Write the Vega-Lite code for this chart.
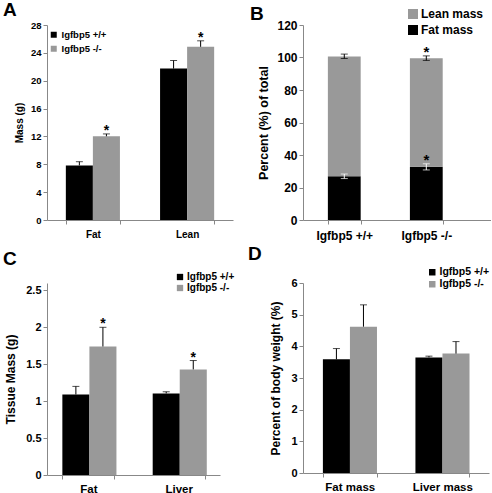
{
  "$schema": "https://vega.github.io/schema/vega-lite/v6.json",
  "padding": {"left": 3, "top": 1, "right": 0, "bottom": 0},
  "background": "white",
  "config": {
    "view": {"stroke": null},
    "font": "Liberation Sans",
    "axis": {"grid": false, "domainColor": "#888", "tickColor": "#888", "labelColor": "#000", "titleColor": "#000", "labelFontWeight": "bold", "titleFontWeight": "bold", "tickSize": 4, "labelOverlap": false},
    "legend": {"labelFontWeight": "bold", "labelColor": "#000", "symbolType": "square", "symbolStrokeWidth": 0, "symbolOpacity": 1},
    "title": {"fontSize": 19, "fontWeight": "bold", "anchor": "start", "color": "#000", "frame": "group"}
  },
  "bounds": "flush",
  "columns": 2,
  "align": "each",
  "spacing": {"row": 63, "column": 70},
  "resolve": {"scale": {"color": "independent", "x": "independent", "y": "independent"}, "legend": {"color": "independent"}},
  "concat": [
    {
      "width": 186, "height": 195,
      "title": {"text": "A", "dx": -44, "offset": 0},
      "data": {"values": [
        {"tissue": "Fat", "genotype": "Igfbp5 +/+", "mean": 7.84, "upper": 8.37, "star": false},
        {"tissue": "Fat", "genotype": "Igfbp5 -/-", "mean": 12.02, "upper": 12.36, "star": true},
        {"tissue": "Lean", "genotype": "Igfbp5 +/+", "mean": 21.74, "upper": 22.9, "star": false},
        {"tissue": "Lean", "genotype": "Igfbp5 -/-", "mean": 24.87, "upper": 25.73, "star": true}
      ]},
      "encoding": {
        "x": {"field": "tissue", "type": "nominal", "sort": ["Fat", "Lean"], "scale": {"paddingInner": 0.426, "paddingOuter": 0.2}, "axis": {"title": null, "labelAngle": 0, "tickBand": "extent", "labelFontSize": 10, "labelPadding": 5}},
        "xOffset": {"field": "genotype", "type": "nominal", "sort": ["Igfbp5 +/+", "Igfbp5 -/-"]}
      },
      "layer": [
        {"mark": {"type": "bar"},
         "encoding": {
           "y": {"field": "mean", "type": "quantitative", "scale": {"domain": [0, 28]}, "axis": {"values": [0, 4, 8, 12, 16, 20, 24, 28], "title": "Mass (g)", "labelFontSize": 9.5, "titleFontSize": 10, "titlePadding": 6}},
           "color": {"field": "genotype", "type": "nominal", "scale": {"domain": ["Igfbp5 +/+", "Igfbp5 -/-"], "range": ["#000000", "#999999"]},
             "legend": {"title": null, "orient": "none", "legendX": 2, "legendY": 5, "labelFontSize": 9.5, "symbolSize": 36, "rowPadding": 3, "labelOffset": 3}}
         }},
        {"mark": {"type": "rule", "color": "#000"}, "encoding": {"y": {"field": "upper", "type": "quantitative", "axis": {"values": [0, 4, 8, 12, 16, 20, 24, 28], "title": "Mass (g)", "labelFontSize": 9.5, "titleFontSize": 10, "titlePadding": 6}}, "y2": {"field": "mean"}}},
        {"mark": {"type": "tick", "color": "#000", "size": 7, "thickness": 1}, "encoding": {"y": {"field": "upper", "type": "quantitative", "axis": {"values": [0, 4, 8, 12, 16, 20, 24, 28], "title": "Mass (g)", "labelFontSize": 9.5, "titleFontSize": 10, "titlePadding": 6}}}},
        {"transform": [{"filter": "datum.star"}], "mark": {"type": "text", "text": "*", "fontSize": 14, "fontWeight": "bold", "baseline": "alphabetic", "dy": 1}, "encoding": {"y": {"field": "upper", "type": "quantitative", "axis": {"values": [0, 4, 8, 12, 16, 20, 24, 28], "title": "Mass (g)", "labelFontSize": 9.5, "titleFontSize": 10, "titlePadding": 6}}}}
      ]
    },
    {
      "width": 188, "height": 195,
      "title": {"text": "B", "dx": -53, "offset": -16},
      "data": {"values": [
        {"genotype": "Igfbp5 +/+", "component": "Fat mass", "pct": 26.9, "lo": 25.5, "hi": 28.3, "star": false},
        {"genotype": "Igfbp5 +/+", "component": "Lean mass", "pct": 73.7, "lo": 99.4, "hi": 102.1, "star": false},
        {"genotype": "Igfbp5 -/-", "component": "Fat mass", "pct": 32.8, "lo": 30.8, "hi": 34.6, "star": true},
        {"genotype": "Igfbp5 -/-", "component": "Lean mass", "pct": 66.8, "lo": 98.2, "hi": 101.0, "star": true}
      ]},
      "encoding": {
        "x": {"field": "genotype", "type": "nominal", "sort": ["Igfbp5 +/+", "Igfbp5 -/-"], "scale": {"paddingInner": 0.6, "paddingOuter": 0.446, "align": 0.34}, "axis": {"title": null, "labelAngle": 0, "tickBand": "extent", "labelFontSize": 12, "labelPadding": 6}}
      },
      "layer": [
        {"mark": {"type": "bar"},
         "encoding": {
           "y": {"field": "pct", "type": "quantitative", "stack": "zero", "scale": {"domain": [0, 120]}, "axis": {"values": [0, 20, 40, 60, 80, 100, 120], "title": "Percent (%) of total", "labelFontSize": 12, "titleFontSize": 12.5, "titlePadding": 6}},
           "order": {"field": "component", "sort": "ascending"},
           "color": {"field": "component", "type": "nominal", "scale": {"domain": ["Lean mass", "Fat mass"], "range": ["#999999", "#000000"]},
             "legend": {"title": null, "orient": "none", "legendX": 104, "legendY": -17, "labelFontSize": 12, "symbolSize": 100, "rowPadding": 4, "labelOffset": 2}}
         }},
        {"transform": [{"filter": "datum.component == 'Fat mass'"}], "mark": {"type": "rule", "color": "#fff"}, "encoding": {"y": {"field": "lo", "type": "quantitative", "axis": {"values": [0, 20, 40, 60, 80, 100, 120], "title": "Percent (%) of total", "labelFontSize": 12, "titleFontSize": 12.5, "titlePadding": 6}}, "y2": {"field": "hi"}}},
        {"transform": [{"filter": "datum.component == 'Fat mass'"}], "mark": {"type": "tick", "color": "#fff", "size": 7, "thickness": 1}, "encoding": {"y": {"field": "lo", "type": "quantitative", "axis": {"values": [0, 20, 40, 60, 80, 100, 120], "title": "Percent (%) of total", "labelFontSize": 12, "titleFontSize": 12.5, "titlePadding": 6}}}},
        {"transform": [{"filter": "datum.component == 'Fat mass'"}], "mark": {"type": "tick", "color": "#fff", "size": 7, "thickness": 1}, "encoding": {"y": {"field": "hi", "type": "quantitative", "axis": {"values": [0, 20, 40, 60, 80, 100, 120], "title": "Percent (%) of total", "labelFontSize": 12, "titleFontSize": 12.5, "titlePadding": 6}}}},
        {"transform": [{"filter": "datum.component == 'Lean mass'"}], "mark": {"type": "rule", "color": "#000"}, "encoding": {"y": {"field": "lo", "type": "quantitative", "axis": {"values": [0, 20, 40, 60, 80, 100, 120], "title": "Percent (%) of total", "labelFontSize": 12, "titleFontSize": 12.5, "titlePadding": 6}}, "y2": {"field": "hi"}}},
        {"transform": [{"filter": "datum.component == 'Lean mass'"}], "mark": {"type": "tick", "color": "#000", "size": 7, "thickness": 1}, "encoding": {"y": {"field": "lo", "type": "quantitative", "axis": {"values": [0, 20, 40, 60, 80, 100, 120], "title": "Percent (%) of total", "labelFontSize": 12, "titleFontSize": 12.5, "titlePadding": 6}}}},
        {"transform": [{"filter": "datum.component == 'Lean mass'"}], "mark": {"type": "tick", "color": "#000", "size": 7, "thickness": 1}, "encoding": {"y": {"field": "hi", "type": "quantitative", "axis": {"values": [0, 20, 40, 60, 80, 100, 120], "title": "Percent (%) of total", "labelFontSize": 12, "titleFontSize": 12.5, "titlePadding": 6}}}},
        {"transform": [{"filter": "datum.star"}], "mark": {"type": "text", "text": "*", "fontSize": 15, "fontWeight": "bold", "baseline": "alphabetic", "dy": 1}, "encoding": {"y": {"field": "hi", "type": "quantitative", "axis": {"values": [0, 20, 40, 60, 80, 100, 120], "title": "Percent (%) of total", "labelFontSize": 12, "titleFontSize": 12.5, "titlePadding": 6}}}}
      ]
    },
    {
      "width": 173, "height": 192,
      "title": {"text": "C", "dx": -44, "offset": 3},
      "data": {"values": [
        {"tissue": "Fat", "genotype": "Igfbp5 +/+", "mean": 1.09, "upper": 1.2, "star": false},
        {"tissue": "Fat", "genotype": "Igfbp5 -/-", "mean": 1.74, "upper": 2.0, "star": true},
        {"tissue": "Liver", "genotype": "Igfbp5 +/+", "mean": 1.105, "upper": 1.127, "star": false},
        {"tissue": "Liver", "genotype": "Igfbp5 -/-", "mean": 1.43, "upper": 1.55, "star": true}
      ]},
      "encoding": {
        "x": {"field": "tissue", "type": "nominal", "sort": ["Fat", "Liver"], "scale": {"paddingInner": 0.425, "paddingOuter": 0.17}, "axis": {"title": null, "labelAngle": 0, "tickBand": "extent", "labelFontSize": 11.5, "labelPadding": 4}},
        "xOffset": {"field": "genotype", "type": "nominal", "sort": ["Igfbp5 +/+", "Igfbp5 -/-"]}
      },
      "layer": [
        {"mark": {"type": "bar"},
         "encoding": {
           "y": {"field": "mean", "type": "quantitative", "scale": {"domain": [0, 2.5]}, "axis": {"values": [0, 0.5, 1, 1.5, 2, 2.5], "format": "~g", "title": "Tissue Mass (g)", "labelFontSize": 11, "titleFontSize": 12, "titlePadding": 8}},
           "color": {"field": "genotype", "type": "nominal", "scale": {"domain": ["Igfbp5 +/+", "Igfbp5 -/-"], "range": ["#000000", "#999999"]},
             "legend": {"title": null, "orient": "none", "legendX": 128, "legendY": -11, "labelFontSize": 10, "symbolSize": 40, "rowPadding": 1, "labelOffset": 2}}
         }},
        {"mark": {"type": "rule", "color": "#000"}, "encoding": {"y": {"field": "upper", "type": "quantitative", "axis": {"values": [0, 0.5, 1, 1.5, 2, 2.5], "format": "~g", "title": "Tissue Mass (g)", "labelFontSize": 11, "titleFontSize": 12, "titlePadding": 8}}, "y2": {"field": "mean"}}},
        {"mark": {"type": "tick", "color": "#000", "size": 7, "thickness": 1}, "encoding": {"y": {"field": "upper", "type": "quantitative", "axis": {"values": [0, 0.5, 1, 1.5, 2, 2.5], "format": "~g", "title": "Tissue Mass (g)", "labelFontSize": 11, "titleFontSize": 12, "titlePadding": 8}}}},
        {"transform": [{"filter": "datum.star"}], "mark": {"type": "text", "text": "*", "fontSize": 14, "fontWeight": "bold", "baseline": "alphabetic", "dy": 1}, "encoding": {"y": {"field": "upper", "type": "quantitative", "axis": {"values": [0, 0.5, 1, 1.5, 2, 2.5], "format": "~g", "title": "Tissue Mass (g)", "labelFontSize": 11, "titleFontSize": 12, "titlePadding": 8}}}}
      ]
    },
    {
      "width": 186, "height": 190,
      "title": {"text": "D", "dx": -55, "offset": 3},
      "data": {"values": [
        {"tissue": "Fat mass", "genotype": "Igfbp5 +/+", "mean": 3.59, "upper": 3.93},
        {"tissue": "Fat mass", "genotype": "Igfbp5 -/-", "mean": 4.62, "upper": 5.31},
        {"tissue": "Liver mass", "genotype": "Igfbp5 +/+", "mean": 3.65, "upper": 3.69},
        {"tissue": "Liver mass", "genotype": "Igfbp5 -/-", "mean": 3.77, "upper": 4.15}
      ]},
      "encoding": {
        "x": {"field": "tissue", "type": "nominal", "sort": ["Fat mass", "Liver mass"], "scale": {"paddingInner": 0.42, "paddingOuter": 0.215}, "axis": {"title": null, "labelAngle": 0, "tickBand": "extent", "labelFontSize": 11.5, "labelPadding": 4}},
        "xOffset": {"field": "genotype", "type": "nominal", "sort": ["Igfbp5 +/+", "Igfbp5 -/-"]}
      },
      "layer": [
        {"mark": {"type": "bar"},
         "encoding": {
           "y": {"field": "mean", "type": "quantitative", "scale": {"domain": [0, 6]}, "axis": {"values": [0, 1, 2, 3, 4, 5, 6], "title": "Percent of body weight (%)", "labelFontSize": 11, "titleFontSize": 12, "titlePadding": 8}},
           "color": {"field": "genotype", "type": "nominal", "scale": {"domain": ["Igfbp5 +/+", "Igfbp5 -/-"], "range": ["#000000", "#999999"]},
             "legend": {"title": null, "orient": "none", "legendX": 124, "legendY": -16, "labelFontSize": 10.5, "symbolSize": 42, "rowPadding": 1, "labelOffset": 2}}
         }},
        {"mark": {"type": "rule", "color": "#000"}, "encoding": {"y": {"field": "upper", "type": "quantitative", "axis": {"values": [0, 1, 2, 3, 4, 5, 6], "title": "Percent of body weight (%)", "labelFontSize": 11, "titleFontSize": 12, "titlePadding": 8}}, "y2": {"field": "mean"}}},
        {"mark": {"type": "tick", "color": "#000", "size": 7, "thickness": 1}, "encoding": {"y": {"field": "upper", "type": "quantitative", "axis": {"values": [0, 1, 2, 3, 4, 5, 6], "title": "Percent of body weight (%)", "labelFontSize": 11, "titleFontSize": 12, "titlePadding": 8}}}}
      ]
    }
  ]
}
